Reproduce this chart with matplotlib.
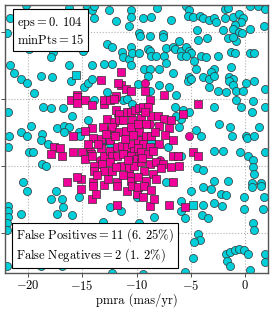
import numpy as np
import matplotlib
matplotlib.use("Agg")
import matplotlib.pyplot as plt

plt.rcParams['font.family'] = 'serif'
plt.rcParams['font.serif'] = ['cmr10']
plt.rcParams['mathtext.fontset'] = 'cm'
plt.rcParams['axes.formatter.use_mathtext'] = True

# field stars (true non-members, predicted noise): pmra, pmdec
field_pmra = [-20.2, -16.2, -14.6, -14.1, -13.9, -12.5, -10.5, -21.6, -13.9, -11.9, -10.5, -10.7,
              -21.9, -12.7, -12.3, -10.5, -19.9, -17.7, -17.9, -14.9, -11.3, -11.2, -10.7, -10.4,
              -21.6, -14.1, -16.2, -13.0, -12.3, -10.5, -21.3, -18.8, -17.8, -20.6, -20.1, -16.0,
              -14.8, -14.5, -14.1, -12.7, -19.4,
              -8.1, -5.4, -5.2, -5.3, -4.8, -4.2, -3.9, -1.9, -1.6, 0.4, 1.2, 1.8, -9.4, -8.7, -6.8,
              -3.3, -2.9, -2.7, -1.9, -1.1, -0.6, -0.2, -0.4, -0.9, -4.4, -2.0, -1.1, 0.4, 1.7,
              -9.8, -9.7, -8.8, -7.6, -7.6, -0.6, -0.3, -6.1, -4.3, -3.5, -1.6, -0.8, -1.1,
              -8.9, -8.8, -8.7, -7.3, -6.6, -6.5, -5.9, -5.4, -5.2, -5.0, -8.2, -7.5, -5.9, -5.4,
              -4.1, -3.6, -2.5, -1.3, -0.9, 0.4, 0.8, -9.8, -4.7, -7.3, -9.3, -8.8, -7.9, -4.5,
              -2.9, -3.1, -1.3, -8.9, -6.6, -5.2, -5.3, -5.0, -3.9, -3.3, -2.9, -1.5, -1.1, -1.5,
              -1.1, 0.1, 0.8, 1.8, -9.9, -7.9, -7.0, -3.3, -2.5, -0.8, -0.2, -1.8, -8.8, -6.4,
              -18.6, -17.9, -16.8, -21.8, -15.9, -14.5, -13.9, -11.2, -10.9, -10.4, -19.7, -17.3,
              -16.7, -16.2, -20.6, -20.1, -21.7, -18.7, -18.8, -16.7, -15.3, -15.2, -18.1, -21.8,
              -19.9, -19.5, -18.7, -18.3, -20.4, -13.2, -12.4,
              -0.8, -0.4, 0.7, 0.6, 1.8, -6.5, -5.7, -5.9, -5.2, -2.9, -6.4, -2.4, -1.4, 1.3, -4.5,
              -4.1, -6.1, -1.2, 0.1, 0.2, 0.8, -7.1, -5.9, -2.9, -2.0, -0.5, 0.3, 0.7, 1.8, -4.4,
              -3.9, -2.9, -1.6, 0.7, 0.8, 1.5, 0.6, -7.3, -8.7,
              -20.1, -17.4, -17.9, -16.9, -16.8, -15.3, -21.8, -21.8, -21.8, -20.6, -17.3, -15.9,
              -12.4, -11.4, -21.9, -21.9, -21.0, -19.6, -13.1, -21.9, -18.8, -16.9, -12.3, -10.0,
              -5.0, -3.9, -3.1, -2.2, -1.8, 0.6, 1.5, -5.9, -3.9, -2.9, -0.1, 1.7, -2.1, -5.9, -5.5,
              -4.0, -3.4, -8.4, -9.8, -0.1, 1.6, 0.7, 0.8, -7.5, -4.3, -4.2, -4.7, -1.8, -1.4, -0.9,
              -0.6, -0.1, 0.3, -1.7, -1.4, 1.8, 1.8, -4.8, -5.5, 0.4, -9.4]
field_pmdec = [7.0, 6.8, 6.9, 6.6, 6.9, 6.6, 6.6, 6.0, 6.0, 5.8, 6.1, 5.4,
               4.9, 4.1, 3.9, 3.9, 3.7, 3.5, 3.1, 3.6, 3.5, 3.1, 3.0, 3.4,
               2.5, 2.5, 2.5, 2.6, 2.6, 2.5, 1.9, 1.7, 1.6, 1.5, 1.2, 1.3,
               0.9, 1.2, 1.5, 0.5, 0.4,
               6.8, 6.9, 6.6, 6.2, 6.1, 6.2, 6.0, 6.7, 6.8, 6.9, 6.9, 6.7, 6.0, 6.1, 5.9,
               5.9, 6.0, 5.7, 6.0, 6.1, 6.3, 6.0, 5.7, 5.5, 5.1, 5.1, 5.2, 5.2, 5.4,
               4.9, 4.7, 4.7, 4.8, 4.6, 5.0, 4.9, 4.3, 4.4, 4.5, 4.5, 4.3, 4.6,
               3.7, 3.6, 3.2, 3.8, 3.9, 3.7, 3.6, 3.9, 3.6, 3.4, 3.2, 3.2, 3.2, 3.2,
               3.2, 3.1, 3.2, 3.5, 3.4, 3.4, 3.4, 3.4, 2.8, 2.7, 2.2, 2.2, 2.2, 2.2,
               2.2, 2.0, 2.4, 1.7, 1.9, 1.6, 1.3, 1.5, 1.6, 1.5, 1.7, 1.6, 1.5, 1.3,
               1.0, 1.2, 1.3, 0.7, 1.1, 1.0, 0.9, 0.9, 0.6, 0.6, 0.6, 0.5, 0.6, 0.3,
               -0.6, -0.7, -0.7, -1.0, -1.3, -1.6, -0.1, -0.1, 0.0, -0.4, -2.0, -2.2,
               -2.0, -2.1, -2.5, -2.8, -2.8, -2.6, -3.1, -2.5, -2.5, -2.8, -3.4, -3.6,
               -4.0, -4.0, -4.9, -5.0, -6.2, -3.2, -3.4,
               -0.1, -0.6, -0.2, -1.0, -0.6, -0.6, -0.8, -1.5, -1.0, -0.6, -1.3, -1.9, -2.1, -2.1, -2.3,
               -2.8, -2.1, -2.8, -2.8, -2.9, -2.8, -3.6, -4.3, -3.9, -3.9, -4.0, -4.3, -4.6, -4.0, -5.2,
               -5.3, -6.1, -6.1, -5.1, -5.6, -6.3, -6.3, -6.2, -3.2,
               -6.9, -6.9, -7.5, -7.5, -8.1, -7.3, -8.0, -8.4, -8.8, -8.6, -8.6, -8.7,
               -8.1, -8.4, -9.3, -9.8, -9.6, -9.6, -9.2, -12.5, -12.5, -12.5, -13.0, -7.3,
               -6.9, -6.6, -6.7, -7.1, -7.2, -6.6, -6.5, -7.6, -7.9, -7.8, -7.3, -7.3, -8.0, -8.4, -8.9,
               -8.7, -8.9, -8.8, -9.3, -8.2, -8.2, -9.3, -9.8, -9.7, -10.1, -10.5, -10.7, -11.6, -11.4, -11.3,
               -11.2, -11.3, -11.6, -12.1, -12.5, -11.6, -12.2, -11.9, -12.9, -12.8, -13.1]

# cluster members found by DBSCAN (true members)
memb_pmra = [-13.3, -11.4, -11.4, -11.0, -10.5, -11.7, -15.5, -11.9, -9.2, -7.5,
             -16.0, -15.5, -15.5, -14.7, -14.1, -13.0, -13.0, -12.4, -12.1, -11.9, -11.6, -10.9,
             -10.5, -10.1, -12.7, -12.1, -11.6, -11.2, -10.4, -14.1, -13.1, -12.3, -11.6, -11.0,
             -10.5, -15.8, -14.7, -14.0, -13.3, -12.4, -17.6, -17.0, -17.9, -16.9, -15.8, -15.0,
             -14.2, -14.7, -14.1, -13.3, -13.0, -12.4, -12.3, -11.8, -11.3, -10.9, -10.4, -10.2,
             -11.8, -11.2, -10.5, -10.0, -13.9, -13.2, -12.4, -11.4, -10.7, -10.2, -13.9, -13.0,
             -12.3, -16.4, -15.1, -14.0, -11.8, -10.5, -15.5,
             -8.8, -4.3, -9.8, -9.4, -8.9, -8.7, -8.0, -7.5, -6.8, -5.7, -9.6, -9.1, -7.9, -7.0,
             -9.8, -9.1, -8.7, -6.6, -9.9, -9.4, -8.8, -7.9, -9.9, -9.6, -8.9, -8.5, -6.6, -6.2,
             -4.8, -4.3, -9.6, -8.8, -8.2, -7.6, -6.8, -6.1, -9.3, -8.5, -7.7, -9.9, -9.1, -6.6,
             -8.2,
             -15.1, -14.0, -13.0, -11.8, -10.9, -10.4, -10.0, -14.1, -13.7, -11.8,
             -9.9, -9.3, -8.7, -9.4, -8.8, -8.4, -7.0, -5.5,
             -13.5, -12.8, -12.0, -11.1, -9.9, -10.8, -11.9, -9.5, -8.3, -7.4, -11.2, -12.6,
             -14.5, -13.6, -10.3, -9.2]
memb_pmdec = [1.4, 2.0, 1.0, 0.7, 0.6, 1.2, 0.3, 0.2, 0.6, 0.3,
              -0.1, 0.1, -0.3, -0.1, -0.5, -0.4, -0.1, -0.1, 0.0, -0.8, -1.1, -1.0,
              -1.0, -0.8, -1.5, -1.7, -1.6, -1.6, -1.6, -2.2, -2.1, -2.1, -2.5, -2.4,
              -2.1, -2.8, -2.4, -2.9, -3.0, -3.1, -3.6, -3.7, -4.1, -4.3, -4.0, -4.0,
              -4.1, -4.5, -4.3, -3.7, -4.3, -3.9, -4.3, -3.6, -3.5, -3.6, -3.4, -3.9,
              -4.3, -4.1, -4.3, -4.5, -5.0, -4.9, -4.7, -5.0, -5.2, -5.0, -5.4, -5.4,
              -5.4, -6.2, -6.0, -6.2, -6.2, -6.1, -5.8,
              -0.1, -0.4, -0.7, -0.6, -0.6, -1.3, -1.3, -1.5, -1.6, -1.1, -1.4, -1.9, -2.0, -2.2,
              -2.4, -2.8, -2.8, -3.1, -3.1, -3.4, -3.6, -3.4, -3.7, -4.0, -4.1, -3.9, -4.3, -4.3,
              -4.0, -4.3, -4.7, -4.9, -4.7, -4.9, -5.1, -5.0, -5.4, -5.6, -5.2, -5.8, -6.1, -6.2,
              -6.0,
              -6.7, -6.5, -6.4, -6.5, -6.9, -6.5, -7.1, -7.5, -7.1, -7.9,
              -6.6, -6.5, -6.8, -7.3, -8.0, -7.5, -7.9, -8.1,
              -3.4, -2.6, -2.8, -3.0, -1.9, -4.6, -5.1, -4.4, -2.5, -2.7, -5.7, -6.0,
              -3.4, -5.7, -2.7, -1.0]

# false positives (non-members put in the cluster)
fp_pmra = [-12.4, -11.1, -9.7, -13.4, -10.6, -8.8, -11.7, -14.3, -7.8, -9.2, -5.2]
fp_pmdec = [-2.3, -3.8, -3.1, -4.6, -5.7, -1.9, -1.2, -3.8, -4.6, 1.2, -2.8]

# false negatives (members left out)
fn_pmra = [-15.6, -4.8]
fn_pmdec = [1.8, -7.9]

eps = 0.104
min_pts = 15
n_fp, fp_pct = 11, 6.25
n_fn, fn_pct = 2, 1.2

cyan = '#00CFDA'
magenta = '#EE0099'

fig = plt.figure(figsize=(2.73, 3.13), dpi=100)
ax = fig.add_axes([5/273, 40/313, 263/273, 268/313])

ax.scatter(field_pmra, field_pmdec, s=34, marker='o', c=cyan, edgecolors='#333333', linewidths=0.5, zorder=2)
ax.scatter(fn_pmra, fn_pmdec, s=30, marker='s', c=cyan, edgecolors='#333333', linewidths=0.5, zorder=2)
ax.scatter(fp_pmra, fp_pmdec, s=34, marker='o', c=magenta, edgecolors='#333333', linewidths=0.5, zorder=3)
ax.scatter(memb_pmra, memb_pmdec, s=30, marker='s', c=magenta, edgecolors='#333333', linewidths=0.5, zorder=4)

ax.set_xlim(-22.1, 2.1)
ax.set_ylim(-13.0, 7.0)
ax.set_xticks([-20, -15, -10, -5, 0])
ax.set_yticks([-10, -5, 0, 5])
ax.set_yticklabels([])
ax.grid(True, linestyle=':', color='#b0b0b0', linewidth=0.8)
ax.set_axisbelow(True)
ax.tick_params(labelsize=9, length=3, width=0.6, pad=1.5, colors='#333333', labelcolor='black')
for sp in ax.spines.values():
    sp.set_color('#555555')
    sp.set_linewidth(1.0)
ax.set_xlabel('pmra (mas/yr)', fontsize=9, labelpad=0)

box = dict(boxstyle='square,pad=0.3', fc='white', ec='black', lw=0.8)
e_int, e_frac = str(eps).split('.')
ax.text(0.045, 0.962,
        r'$\mathrm{eps}=%s.\,%s$' % (e_int, e_frac) + '\n' + r'$\mathrm{minPts}=%d$' % min_pts,
        transform=ax.transAxes, ha='left', va='top', fontsize=9, bbox=box, zorder=6)
fp_s = str(fp_pct).split('.')
fn_s = str(fn_pct).split('.')
ax.text(0.042, 0.032,
        r'$\mathrm{False\ Positives}=%d\ (%s.\,%s\%%)$' % (n_fp, fp_s[0], fp_s[1]) + '\n' +
        r'$\mathrm{False\ Negatives}=%d\ (%s.\,%s\%%)$' % (n_fn, fn_s[0], fn_s[1]),
        transform=ax.transAxes, ha='left', va='bottom', fontsize=9, bbox=box, zorder=6)

fig.savefig('out.png', dpi=100)
